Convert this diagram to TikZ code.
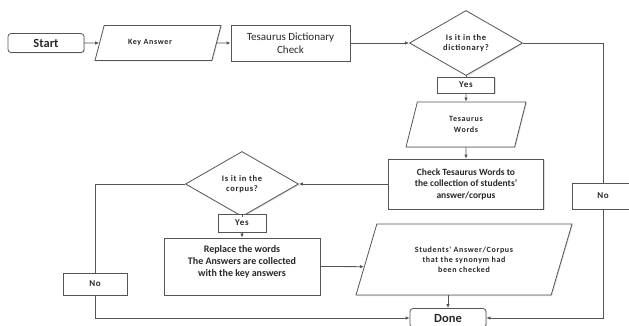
\documentclass[tikz,border=0pt]{standalone}
\usepackage{fontspec}
\setmainfont{Carlito}
\newfontfamily\widefont[LetterSpace=8]{Carlito}
\usetikzlibrary{shapes.geometric,shadows,arrows.meta,calc}
\definecolor{linegray}{HTML}{555555}
\definecolor{textgray}{HTML}{282828}

\begin{document}
\begin{tikzpicture}[x=1pt, y=-1pt, >={Latex[length=4pt,width=3.5pt]},
  every node/.style={draw=linegray, fill=white, text=textgray, line width=0.8pt, align=center, inner sep=1pt,
    drop shadow={shadow xshift=1pt, shadow yshift=-1pt, opacity=0.25}},
  term/.style={rectangle, rounded corners=3pt, minimum width=76pt, minimum height=19pt,
    font=\fontsize{12.5}{14}\selectfont\bfseries},
  process/.style={rectangle},
  io/.style={trapezium, trapezium stretches body},
  decision/.style={diamond, minimum width=113pt, minimum height=65pt, inner sep=0pt,
    font=\widefont\fontsize{8.5}{10.5}\selectfont\bfseries},
  tag/.style={rectangle, font=\widefont\fontsize{9}{10}\selectfont\bfseries},
  flow/.style={draw=linegray, line width=0.8pt}]
  \useasboundingbox (0,0) rectangle (629,326);
  \clip (0,0) rectangle (629,326);

  % top row
  \node[term] (start) at (46,43) {Start};
  \node[io, minimum width=126pt, minimum height=35pt, trapezium left angle=48, trapezium right angle=132,
    font=\widefont\fontsize{8}{9}\selectfont\bfseries] (key) at (158,43) {\raisebox{3pt}{Key Answer}\hspace{16pt}};
  \node[process, minimum width=119pt, minimum height=36pt, font=\fontsize{11}{12.5}\selectfont] (tdc) at (290.5,43)
    {Tesaurus Dictionary\\Check};
  \node[decision] (dict) at (466,43) {Is it in the\\dictionary?};

  % right column
  \node[tag, minimum width=57pt, minimum height=16pt] (yesA) at (466,85) {Yes};
  \node[io, minimum width=120pt, minimum height=45pt, trapezium left angle=58, trapezium right angle=122,
    font=\widefont\fontsize{8}{11}\selectfont\bfseries] (tw) at (466,124.5) {Tesaurus\\Words};
  \node[process, minimum width=155pt, minimum height=50pt, font=\fontsize{9.5}{11.5}\selectfont\bfseries] (check)
    at (466,184) {Check Tesaurus Words to\\the collection of students'\\answer/corpus};

  % left column
  \node[decision] (corp) at (242,184) {Is it in the\\corpus?};
  \node[tag, minimum width=48pt, minimum height=18pt] (yesB) at (242,223) {Yes};
  \node[process, minimum width=156pt, minimum height=57pt, font=\fontsize{10}{12}\selectfont\bfseries] (repl)
    at (242,266.5) {Replace the words\\The Answers are collected\\with the key answers\\[-1pt]};
  \node[io, minimum width=216pt, minimum height=71pt, trapezium left angle=53, trapezium right angle=127,
    font=\widefont\fontsize{8}{10}\selectfont\bfseries] (stud) at (464,259.5)
    {Students' Answer/Corpus\\that the synonym had\\been checked};
  \node[term] (done) at (448,318) {Done};
  \node[tag, minimum width=64pt, minimum height=22pt] (noL) at (95,284) {No};
  \node[tag, minimum width=62pt, minimum height=26pt] (noR) at (603,196) {No};

  \draw[flow, ->] (start) -- (key);
  \draw[flow, ->] (key) -- (tdc);
  \draw[flow, ->] (tdc) -- (dict);
  \draw[flow] (dict) -- (yesA);
  \draw[flow, ->] (yesA) -- (tw);
  \draw[flow, ->] (tw) -- (check);
  \draw[flow, ->] (check) -- (corp);
  \draw[flow] (corp) -- (yesB);
  \draw[flow, ->] (yesB) -- (repl);
  \draw[flow, ->] (repl.east) -- ($(stud.bottom left corner)!0.4!(stud.top left corner)$);
  \draw[flow, ->] (done.north |- stud.south) -- (done.north);
  \draw[flow] (corp.west) -| (noL.north);
  \draw[flow, ->] (noL.south) |- (done.west);
  \draw[flow] (dict.east) -| (noR.north);
  \draw[flow, ->] (noR.south) |- (done.east);
\end{tikzpicture}
\end{document}
